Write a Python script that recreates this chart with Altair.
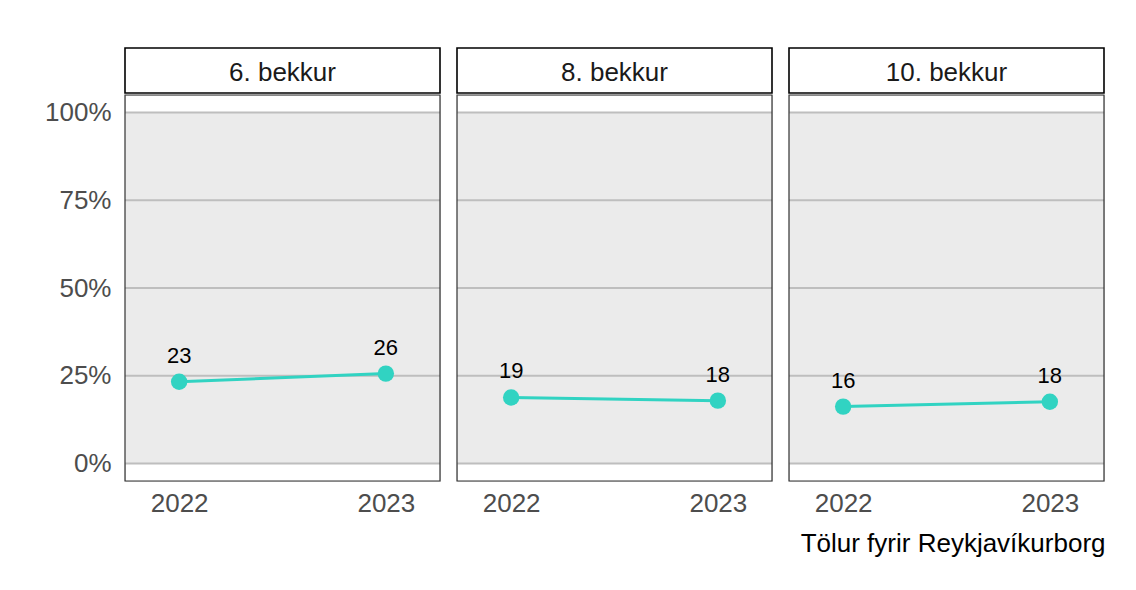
import altair as alt
import pandas as pd

grades = ["6. bekkur", "8. bekkur", "10. bekkur"]
years = ["2022", "2023"]
share_6 = [0.233, 0.256]
share_8 = [0.188, 0.179]
share_10 = [0.162, 0.176]
labels_6 = ["23", "26"]
labels_8 = ["19", "18"]
labels_10 = ["16", "18"]
y_ticks = [0.0, 0.25, 0.5, 0.75, 1.0]
caption = "Tölur fyrir Reykjavíkurborg"

shares = {"6. bekkur": share_6, "8. bekkur": share_8, "10. bekkur": share_10}
labels = {"6. bekkur": labels_6, "8. bekkur": labels_8, "10. bekkur": labels_10}

W, H = 315, 386
FONT = "Liberation Sans"
COLOR = "#31D3C2"
yscale = alt.Scale(domain=[-0.05, 1.05], nice=False, zero=False)
xscale = alt.Scale(type="point", padding=0.262)


def panel(i, g):
    df = pd.DataFrame({"year": years, "share": shares[g], "label": labels[g]})
    if i == 0:
        yaxis = alt.Axis(values=y_ticks, format=".0%", labelFontSize=26, labelColor="#4D4D4D",
                         labelFont=FONT, domain=False, ticks=False, grid=False,
                         labelPadding=14, title=None)
    else:
        yaxis = None
    xaxis = alt.Axis(labelAngle=0, labelFontSize=26, labelColor="#4D4D4D", labelFont=FONT,
                     domain=False, ticks=False, grid=False, labelPadding=9, title=None)

    bg = alt.Chart(pd.DataFrame({"lo": [0.0], "hi": [1.0]})).mark_rect(color="#EBEBEB").encode(
        x=alt.value(0), x2=alt.value(W),
        y=alt.Y("lo:Q", scale=yscale, axis=yaxis), y2="hi:Q")
    grid = alt.Chart(pd.DataFrame({"v": y_ticks})).mark_rule(color="#BEBEBE", strokeWidth=2).encode(
        x=alt.value(0), x2=alt.value(W),
        y=alt.Y("v:Q", scale=yscale, axis=yaxis))
    base = alt.Chart(df).encode(
        x=alt.X("year:O", scale=xscale, axis=xaxis, sort=years),
        y=alt.Y("share:Q", scale=yscale, axis=yaxis))
    line = base.mark_line(color=COLOR, strokeWidth=3)
    pts = base.mark_circle(color=COLOR, size=270, opacity=1)
    txt = base.mark_text(dy=-19, baseline="alphabetic", fontSize=22, color="black", font=FONT).encode(
        text="label:N")
    hdf = pd.DataFrame({"g": [g]})
    border = alt.Chart(hdf).mark_rect(fill=None, stroke="#333333", strokeWidth=1.2).encode(
        x=alt.value(0), x2=alt.value(W), y=alt.value(0), y2=alt.value(H))
    hrect = alt.Chart(hdf).mark_rect(fill="white", stroke="black", strokeWidth=1.6).encode(
        x=alt.value(0), x2=alt.value(W), y=alt.value(-47), y2=alt.value(-2))
    htxt = alt.Chart(hdf).mark_text(fontSize=26, color="#1A1A1A", baseline="alphabetic", font=FONT).encode(
        text="g:N", x=alt.value(W / 2), y=alt.value(-14))
    return alt.layer(bg, grid, line, pts, txt, border, hrect, htxt).properties(width=W, height=H)


chart = alt.hconcat(*[panel(i, g) for i, g in enumerate(grades)], spacing=13).properties(
    title=alt.TitleParams(caption, orient="bottom", anchor="end", fontSize=26, fontWeight="normal",
                          color="black", font=FONT, offset=14),
    padding={"left": 36, "top": 38, "right": 10, "bottom": 10},
).configure_view(stroke=None).configure(font=FONT)

chart.save("out.html", embed_options={"renderer": "svg", "actions": False})
